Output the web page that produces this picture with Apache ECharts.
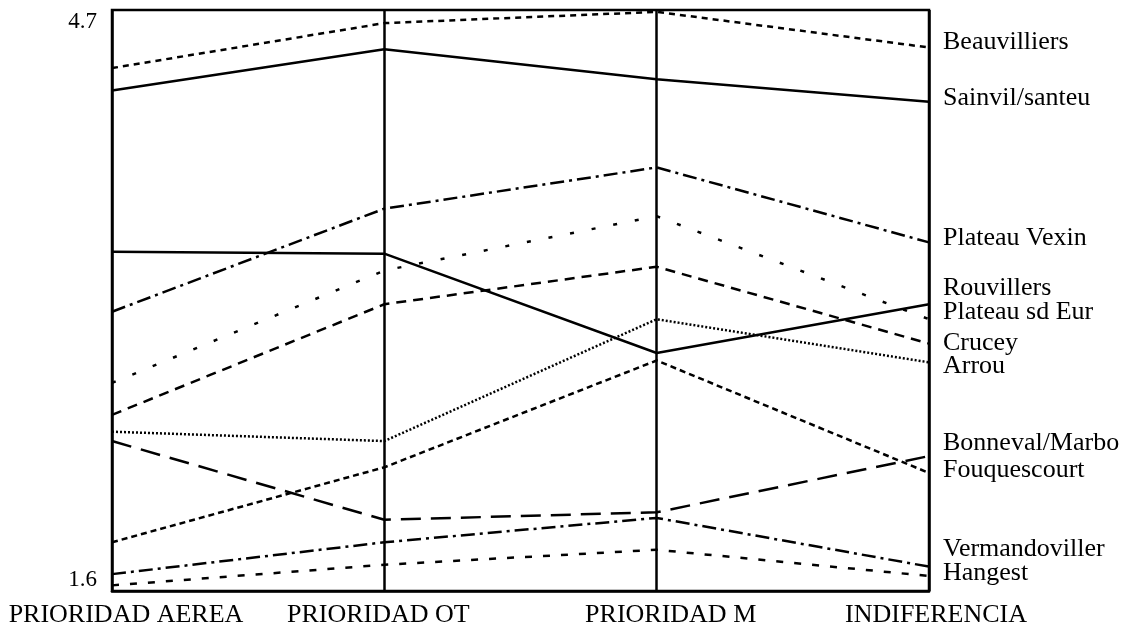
<!DOCTYPE html>
<html>
<head>
<meta charset="utf-8">
<script src="https://cdn.jsdelivr.net/npm/echarts@6/dist/echarts.min.js"></script>
<style>
html,body{margin:0;padding:0;background:#fff;}
#chart{width:1139px;height:630px;}
</style>
</head>
<body>
<div id="chart"></div>
<script>
// Categories (parallel axes)
var categories = ['PRIORIDAD AEREA', 'PRIORIDAD OT', 'PRIORIDAD M', 'INDIFERENCIA'];

// Series values
var beauvilliers   = [4.39, 4.63, 4.69, 4.50];
var sainvil        = [4.27, 4.49, 4.33, 4.21];
var plateauVexin   = [3.09, 3.64, 3.86, 3.46];
var rouvillers     = [3.41, 3.40, 2.87, 3.13];
var plateauSdEur   = [2.71, 3.31, 3.60, 3.05];
var crucey         = [2.54, 3.13, 3.33, 2.92];
var arrou          = [2.45, 2.40, 3.05, 2.82];
var bonneval       = [2.40, 1.98, 2.02, 2.32];
var fouquescourt   = [1.86, 2.26, 2.83, 2.23];
var vermandoviller = [1.69, 1.86, 1.99, 1.73];
var hangest        = [1.63, 1.74, 1.82, 1.68];

// Tick labels
var yMin = 1.6, yMax = 4.7;
var tickLabels = ['1.6', '4.7'];

var FONT = '"Liberation Serif", "DejaVu Serif", serif';
var labelStyleKeys = ['s0', 's1', 's2', 's3'];

function mk(name, data, dash, width, dy) {
  return {
    name: name,
    type: 'line',
    data: data,
    yAxisIndex: 0,
    showSymbol: false,
    symbol: 'none',
    silent: true,
    animation: false,
    lineStyle: { color: '#000', width: width, type: dash },
    endLabel: {
      show: true,
      formatter: '{a}',
      color: '#000',
      fontFamily: FONT,
      fontSize: 26,
      distance: 14,
      offset: [0, dy]
    }
  };
}

function rs(pad) {
  return { color: '#000', fontFamily: FONT, fontSize: 26, padding: pad };
}

var chart = echarts.init(document.getElementById('chart'), null, { renderer: 'canvas' });
chart.setOption({
  animation: false,
  backgroundColor: '#fff',
  grid: {
    left: 112, right: 210, top: 10, bottom: 39,
    containLabel: false, outerBoundsMode: 'none',
    show: true, borderColor: '#000', borderWidth: 2.5, backgroundColor: 'transparent'
  },
  xAxis: {
    type: 'category',
    data: categories,
    boundaryGap: false,
    axisLine: { show: true, lineStyle: { color: '#000', width: 2.5 } },
    axisTick: { show: false },
    splitLine: { show: true, interval: 0, lineStyle: { color: '#000', width: 2.5 } },
    axisLabel: {
      color: '#000', fontFamily: FONT, fontSize: 26, margin: 11, interval: 0,
      formatter: function (v, i) { return '{' + labelStyleKeys[i] + '|' + v + '}'; },
      rich: {
        s0: rs([0, 0, 0, 28]),
        s1: rs([0, 12, 0, 0]),
        s2: rs([0, 0, 0, 28]),
        s3: rs([0, 0, 0, 14])
      }
    }
  },
  yAxis: [
    {
      type: 'value', min: yMin, max: yMax, interval: yMax - yMin,
      axisLine: { show: false }, axisTick: { show: false }, splitLine: { show: false },
      axisLabel: {
        color: '#000', fontFamily: FONT, fontSize: 23, margin: 15, verticalAlign: 'top',
        formatter: function (v) { return Math.abs(v - yMax) < 1e-6 ? tickLabels[1] : ''; }
      }
    },
    {
      type: 'value', min: yMin, max: yMax, interval: yMax - yMin, position: 'left',
      axisLine: { show: false }, axisTick: { show: false }, splitLine: { show: false },
      axisLabel: {
        color: '#000', fontFamily: FONT, fontSize: 23, margin: 15, verticalAlign: 'bottom',
        formatter: function (v) { return Math.abs(v - yMin) < 1e-6 ? tickLabels[0] : ''; }
      }
    }
  ],
  series: [
    mk('Beauvilliers', beauvilliers, [6, 5], 2.5, -5),
    mk('Sainvil/santeu', sainvil, 'solid', 2.5, -4),
    mk('Plateau Vexin', plateauVexin, [14, 5, 3, 5], 2.5, -4),
    mk('Rouvillers', rouvillers, 'solid', 2.5, -16),
    mk('Plateau sd Eur', plateauSdEur, [4, 18], 2.5, -7),
    mk('Crucey', crucey, [10, 7], 2.5, 0),
    mk('Arrou', arrou, [2, 2], 2.5, 4),
    mk('Bonneval/Marbo', bonneval, [20, 10], 2.5, -13),
    mk('Fouquescourt', fouquescourt, [6, 4], 2.5, -3),
    mk('Vermandoviller', vermandoviller, [14, 5, 3, 5], 2.5, -17),
    mk('Hangest', hangest, [7, 11], 2.5, -3)
  ]
});
</script>
</body>
</html>
